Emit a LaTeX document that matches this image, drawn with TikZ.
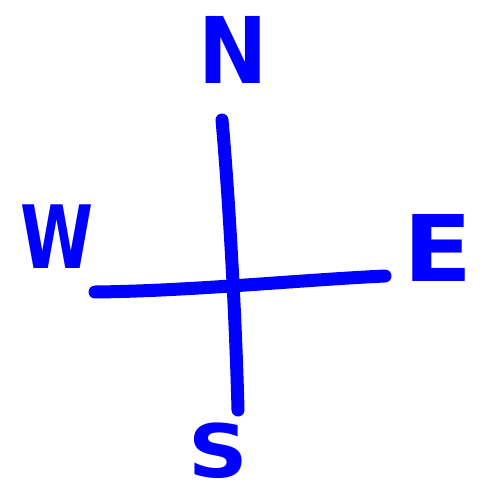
\documentclass[tikz,border=0pt]{standalone}
\usepackage{fontspec}
\setsansfont{DejaVu Sans}
\usetikzlibrary{positioning}
\tikzstyle{stroke}=[draw=blue,line width=13pt,line cap=round]
\tikzstyle{letter}=[text=blue,inner sep=0pt,font=\sffamily\bfseries\fontsize{92}{92}\selectfont]

\begin{document}
\begin{tikzpicture}[x=1pt,y=-1pt]
    \useasboundingbox (0,0) rectangle (484,494);
    % arms of the cross
    \coordinate (top) at (222,120);
    \coordinate (bottom) at (238,410);
    \coordinate (left) at (95,292);
    \coordinate (right) at (385,276);
    \draw[stroke] (top) .. controls (230,210) and (236,330) .. (bottom);
    \draw[stroke] (left) .. controls (190,291) and (300,280) .. (right);
    % the four letters
    \node[letter,xscale=0.9] (N) at (233,50) {N};
    \node[letter,xscale=1.1] (E) at (438,248) {E};
    \node[letter,xscale=0.9,yscale=0.8] (S) at (218,451) {S};
    \node[letter,xscale=0.72,yscale=0.95] (W) at (57,237) {W};
\end{tikzpicture}
\end{document}
